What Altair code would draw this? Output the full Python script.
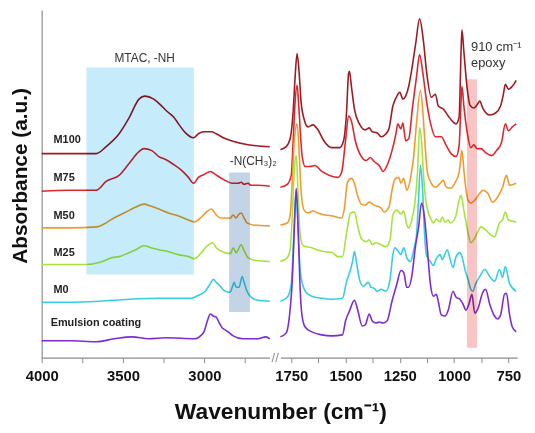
import altair as alt
import pandas as pd

SERIES = ["M100", "M75", "M50", "M25", "M0", "Emulsion coating"]
COLORS = ["#a01a22", "#e0262c", "#f39a2c", "#a6e33e", "#33cfe3", "#7d2bd6"]

# ---- left panel (4000-2600 cm-1) ----
M100_L_WN = [4000,3890,3768,3665,3604,3524,3463,3402,3366,3311,3268,3232,3189,3159,3116,3067,3037,3006,2957,2927,2884,2835,2732,2598]
M100_L_A = [206,206,206,206,213,226,242,261,264,261,255,249,243,236,227,222,226,228,228,226,222,219,215,213]
M75_L_WN = [4000,3829,3665,3604,3524,3463,3402,3372,3323,3280,3238,3189,3140,3098,3067,3037,3000,2963,2933,2884,2823,2793,2774,2756,2732,2713,2671,2598]
M75_L_A = [168,169,169,178,184,196,208,211,209,203,200,195,189,182,176,182,185,188,185,180,176,176,177,175,176,174,174,173]
M50_L_WN = [4000,3829,3659,3616,3567,3482,3421,3372,3329,3280,3220,3159,3098,3061,3018,2988,2957,2927,2902,2841,2823,2805,2787,2774,2756,2738,2701,2598]
M50_L_A = [131,131,132,135,140,147,152,155,153,150,146,143,139,137,142,147,150,144,141,141,144,141,145,146,141,136,134,133]
M25_L_WN = [4000,3829,3726,3646,3567,3524,3463,3421,3372,3329,3280,3220,3159,3098,3061,3018,2982,2951,2927,2902,2841,2823,2805,2774,2756,2732,2683,2598]
M25_L_A = [94,94,94,96,101,102,106,109,113,111,109,107,104,102,100,106,113,116,111,108,105,111,106,114,108,101,98,97]
M0_L_WN = [4000,3829,3646,3463,3280,3079,3037,2994,2963,2945,2927,2902,2872,2841,2829,2817,2805,2787,2768,2756,2738,2713,2671,2598]
M0_L_A = [56,56,57,59,60,60,63,67,75,79,76,72,67,66,71,76,71,71,82,76,67,61,58,57]
EM_L_WN = [4000,3829,3665,3555,3445,3341,3238,3055,3024,3000,2982,2963,2945,2927,2909,2890,2872,2854,2823,2762,2671,2622,2598]
EM_L_A = [17,17,16,19,21,19,20,19,22,27,37,44,42,41,35,30,28,26,22,19,19,21,19]

# ---- right panel (1800-714 cm-1) ----
M100_R_WN = [1800,1773,1755,1741,1732,1723,1714,1705,1691,1673,1650,1627,1600,1564,1527,1509,1495,1486,1482,1473,1459,1436,1409,1391,1377,1355,1336,1318,1300,1282,1268,1250,1236,1223,1209,1195,1177,1159,1141,1127,1105,1086,1073,1050,1027,1005,991,977,968,964,955,941,927,909,895,882,868,836,809,786,773,764,750,732,714]
M100_R_A = [210,213,221,249,284,307,289,259,241,233,235,230,219,212,212,219,249,287,289,274,251,236,230,232,228,227,223,225,231,254,262,268,261,264,274,291,317,342,319,289,263,266,254,251,244,238,236,243,309,331,309,274,255,252,255,259,252,245,247,254,266,276,271,274,280]
M75_R_WN = [1800,1768,1750,1741,1732,1723,1714,1700,1686,1664,1641,1609,1573,1536,1518,1500,1486,1473,1455,1427,1405,1386,1368,1345,1327,1309,1286,1268,1259,1245,1236,1223,1209,1191,1173,1159,1145,1127,1109,1086,1059,1036,1014,991,977,968,964,955,941,923,909,895,877,855,827,805,782,764,750,732,714]
M75_R_A = [172,175,184,219,259,275,249,204,193,193,194,188,184,182,187,219,244,239,219,203,199,202,198,194,188,194,209,226,236,231,237,219,221,254,284,306,289,259,237,223,223,214,206,203,214,259,274,254,229,212,215,211,211,207,204,209,217,236,229,233,236]
M50_R_WN = [1800,1768,1755,1745,1736,1723,1714,1705,1691,1673,1650,1627,1595,1559,1518,1505,1491,1473,1459,1445,1427,1409,1391,1368,1336,1323,1300,1286,1273,1255,1245,1232,1218,1200,1186,1173,1155,1141,1132,1123,1105,1086,1064,1050,1036,1014,995,977,968,964,955,945,936,923,905,882,868,845,823,800,777,759,745,714]
M50_R_A = [134,136,144,179,219,236,209,169,149,146,148,146,144,143,141,151,177,181,176,164,155,154,157,154,151,147,152,169,180,182,176,181,169,182,204,237,270,239,209,187,176,172,176,179,172,171,177,187,204,209,189,169,159,156,159,166,169,166,157,162,172,184,174,176]
M25_R_WN = [1800,1768,1755,1745,1736,1727,1718,1709,1695,1655,1632,1595,1559,1536,1514,1495,1477,1459,1445,1427,1405,1391,1377,1359,1336,1314,1295,1282,1264,1245,1232,1218,1209,1195,1182,1168,1159,1150,1141,1127,1109,1095,1082,1064,1055,1041,1027,1018,995,977,968,955,936,923,905,891,877,855,832,814,791,777,764,750,714]
M25_R_A = [97,101,109,144,189,204,164,124,113,111,109,107,106,102,102,126,146,147,134,120,117,119,114,116,114,112,119,144,149,145,148,134,131,139,154,189,232,219,184,154,141,136,140,137,142,137,139,136,141,159,164,149,126,116,121,127,132,129,124,122,136,139,147,139,137]
M0_R_WN = [1800,1768,1750,1741,1732,1727,1718,1709,1695,1682,1655,1609,1564,1514,1495,1477,1468,1459,1450,1436,1418,1395,1382,1368,1355,1336,1314,1295,1282,1273,1259,1245,1232,1218,1200,1186,1173,1164,1155,1145,1136,1127,1109,1095,1082,1064,1055,1041,1032,1018,1005,991,973,964,950,936,923,914,900,882,859,836,814,791,777,764,745,714]
M0_R_A = [57,61,74,109,154,169,129,89,72,66,62,60,59,60,77,89,97,107,97,79,72,76,71,70,67,69,67,79,104,111,108,104,111,101,97,109,124,159,194,169,124,103,97,93,100,104,99,105,109,99,91,102,106,102,89,79,69,67,75,82,89,82,77,89,81,92,75,67]
EM_R_WN = [1800,1773,1755,1745,1736,1727,1718,1709,1700,1686,1655,1609,1564,1514,1500,1482,1459,1445,1423,1409,1391,1377,1359,1345,1327,1309,1286,1264,1245,1232,1218,1209,1195,1177,1164,1150,1136,1123,1109,1095,1082,1073,1059,1041,1027,1005,991,973,959,945,932,918,905,891,868,855,836,814,800,786,768,759,745,732,714]
EM_R_A = [21,25,49,79,129,171,129,69,42,31,26,23,22,23,37,47,58,49,32,33,44,37,35,36,35,37,57,74,88,86,71,71,82,114,131,156,141,109,74,62,64,57,43,42,48,67,61,59,54,48,54,64,45,49,66,69,54,42,39,43,64,65,44,31,26]

# label anchors (wavenumber, absorbance units)
LABEL_WN = [3927, 3927, 3927, 3927, 3927, 3945]
LABEL_A = [220, 181, 143, 106, 68, 35]

LEFT_TICKS = [4000, 3750, 3500, 3250, 3000, 2750]
RIGHT_TICKS = [1750, 1625, 1500, 1375, 1250, 1125, 1000, 875, 750]

FONT = "Liberation Sans"


def build(pairs):
    rows = []
    for s, (w, a) in zip(SERIES, pairs):
        for wi, ai in zip(w, a):
            rows.append({"series": s, "wn": wi, "a": ai})
    return pd.DataFrame(rows)


df_left = build([(M100_L_WN, M100_L_A), (M75_L_WN, M75_L_A), (M50_L_WN, M50_L_A),
                 (M25_L_WN, M25_L_A), (M0_L_WN, M0_L_A), (EM_L_WN, EM_L_A)])
df_right = build([(M100_R_WN, M100_R_A), (M75_R_WN, M75_R_A), (M50_R_WN, M50_R_A),
                  (M25_R_WN, M25_R_A), (M0_R_WN, M0_R_A), (EM_R_WN, EM_R_A)])
df_labels = pd.DataFrame({"series": SERIES, "wn": LABEL_WN, "a": LABEL_A})

SY = alt.Scale(domain=[0, 351], nice=False, zero=False)
AY = alt.Axis(title="Absorbance (a.u.)", labels=False, ticks=False, grid=False,
              domainColor="#8c8c8c", domainWidth=1.2,
              titleFont=FONT, titleFontSize=21, titleFontWeight="bold", titleColor="#111",
              titleX=-21, titleY=167, titleBaseline="middle", titleAngle=270)

SL = alt.Scale(domain=[4000, 2600], range=[0, 230], nice=False, zero=False)
SR = alt.Scale(domain=[1800, 710], range=[241, 480], nice=False, zero=False)

axis_common = dict(orient="bottom", grid=False, domainColor="#8c8c8c", domainWidth=1.2,
                   tickColor="#8c8c8c", tickSize=5, labelFont=FONT, labelFontSize=15,
                   labelFontWeight="bold", labelColor="#111", labelPadding=6,
                   labelFlush=False, labelOverlap=False)
AXL = alt.Axis(values=LEFT_TICKS, labelExpr="datum.value % 500 === 0 ? datum.value : ''",
               title=None, **axis_common)
AXR = alt.Axis(values=RIGHT_TICKS, labelExpr="datum.value % 250 === 0 ? datum.value : ''",
               title="Wavenumber (cm\u207b\u00b9)", titleFont=FONT, titleFontSize=23,
               titleFontWeight="bold", titleColor="#111", titleX=241, titleY=61,
               titleBaseline="alphabetic", titleAlign="center", **axis_common)

C = alt.Color("series:N", scale=alt.Scale(domain=SERIES, range=COLORS), legend=None)


def xl(f):
    return alt.X(f"{f}:Q", scale=SL, axis=AXL)


def xr(f):
    return alt.X(f"{f}:Q", scale=SR, axis=AXR)


def yy(f):
    return alt.Y(f"{f}:Q", scale=SY, axis=AY)


left_lines = alt.Chart(df_left).mark_line(strokeWidth=1.6, interpolate="monotone").encode(
    x=xl("wn"), y=yy("a"), color=C, detail="series:N")

rect_mtac = alt.Chart(pd.DataFrame({"x1": [3725], "x2": [3065], "y1": [84], "y2": [293]})).mark_rect(
    color="#c6ebfa", blend="multiply").encode(x=xl("x1"), x2="x2:Q", y=yy("y1"), y2="y2:Q")
rect_nme = alt.Chart(pd.DataFrame({"x1": [2848], "x2": [2720], "y1": [46], "y2": [187]})).mark_rect(
    color="#c3d4e6", blend="multiply").encode(x=xl("x1"), x2="x2:Q", y=yy("y1"), y2="y2:Q")

left_labels = alt.Chart(df_labels).mark_text(
    align="left", baseline="middle", font=FONT, fontSize=11, fontWeight="bold", color="#222"
).encode(x=xl("wn"), y=yy("a"), text="series:N")

ann_mtac = alt.Chart(pd.DataFrame({"wn": [3367], "a": [302], "t": ["MTAC, -NH"]})).mark_text(
    align="center", baseline="middle", font=FONT, fontSize=12, color="#333"
).encode(x=xl("wn"), y=yy("a"), text="t:N")

ann_nme = alt.Chart(pd.DataFrame({"wn": [2844], "a": [199], "t": ["-N(CH\u2083)\u2082"]})).mark_text(
    align="left", baseline="middle", font=FONT, fontSize=12, color="#333"
).encode(x=xl("wn"), y=yy("a"), text="t:N")

brk = alt.Chart(pd.DataFrame({"wn": [2565], "a": [0], "t": ["//"]})).mark_text(
    baseline="middle", align="center", font=FONT, fontSize=13, color="#8c8c8c"
).encode(x=xl("wn"), y=yy("a"), text="t:N")

right_lines = alt.Chart(df_right).mark_line(strokeWidth=1.6, interpolate="monotone").encode(
    x=xr("wn"), y=yy("a"), color=C, detail="series:N")

rect_epoxy = alt.Chart(pd.DataFrame({"x1": [941], "x2": [895], "y1": [10], "y2": [281]})).mark_rect(
    color="#f8c4c4", blend="multiply").encode(x=xr("x1"), x2="x2:Q", y=yy("y1"), y2="y2:Q")

ann_right = alt.Chart(pd.DataFrame({
    "wn": [922, 922], "a": [314, 297], "t": ["910 cm\u207b\u00b9", "epoxy"]})).mark_text(
    align="left", baseline="middle", font=FONT, fontSize=13, color="#333"
).encode(x=xr("wn"), y=yy("a"), text="t:N")

left = alt.layer(left_lines, rect_mtac, rect_nme, left_labels, ann_mtac, ann_nme, brk)
right = alt.layer(right_lines, rect_epoxy, ann_right)

chart = alt.layer(left, right).resolve_scale(x="independent").properties(
    width=482, height=351,
    autosize=alt.AutoSizeParams(type="none"),
    padding={"left": 34, "right": 8, "top": 0, "bottom": 66},
).configure_view(stroke=None).configure_axis(grid=False)

chart.save("out.html", embed_options={"renderer": "svg", "actions": False})
